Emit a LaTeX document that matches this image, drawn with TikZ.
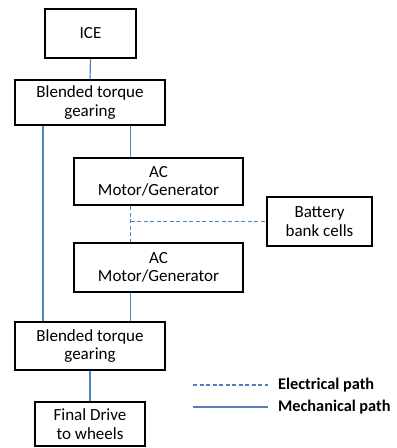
\documentclass[tikz,border=0pt]{standalone}
\usepackage{fontspec}
\setmainfont{Carlito}
\begin{document}
\begin{tikzpicture}[x=1bp,y=-1bp,
  box/.style={draw=black,line width=2.5bp,rectangle,inner sep=0pt,align=center,
    font=\fontsize{17bp}{18.5bp}\selectfont,fill=white},
  mech/.style={draw=lineblue,line width=1.2bp},
  elec/.style={draw=lineblue,line width=1.2bp,dash pattern=on 4bp off 2.5bp},
  legline/.style={line width=2bp},
  legtext/.style={anchor=west,inner sep=0pt,font=\fontsize{16.3bp}{18bp}\selectfont\bfseries}]
\definecolor{lineblue}{RGB}{79,129,189}
\useasboundingbox (0,0) rectangle (396,448);
\node[box,minimum width=91bp,minimum height=49bp] (ice) at (90.5,33.5) {ICE};
\node[box,minimum width=150bp,minimum height=45bp] (bl1) at (90,102.5) {Blended torque\\gearing};
\node[box,minimum width=169bp,minimum height=47bp] (ac1) at (158.5,181.5) {AC\\Motor/Generator};
\node[box,minimum width=105bp,minimum height=49bp] (bat) at (319.5,221.5) {Battery\\bank cells};
\node[box,minimum width=169bp,minimum height=49bp] (ac2) at (158.5,267.5) {AC\\Motor/Generator};
\node[box,minimum width=150bp,minimum height=48bp] (bl2) at (90,346) {Blended torque\\gearing};
\node[box,minimum width=110bp,minimum height=44bp] (fd) at (90,424) {Final Drive\\to wheels};
\coordinate (c) at (130.5,0);
\coordinate (l) at (43,0);
\draw[mech] (ice.south) -- (bl1.north);
\draw[mech] (c |- bl1.south) -- (c |- ac1.north);
\draw[mech] (l |- bl1.south) -- (l |- bl2.north);
\draw[elec] (c |- ac1.south) -- (c |- ac2.north);
\draw[elec] (c |- bat.west) -- (bat.west);
\draw[mech] (c |- ac2.south) -- (c |- bl2.north);
\draw[mech] (bl2.south) -- (fd.north);
\coordinate (e1) at (193,385);
\coordinate (e2) at (268,385);
\coordinate (m1) at (193,407);
\coordinate (m2) at (268,407);
\draw[elec,legline] (e1) -- (e2);
\draw[mech,legline] (m1) -- (m2);
\node[legtext] (el) at (278,385) {Electrical path};
\node[legtext] (ml) at (278,407) {Mechanical path};
\end{tikzpicture}
\end{document}
